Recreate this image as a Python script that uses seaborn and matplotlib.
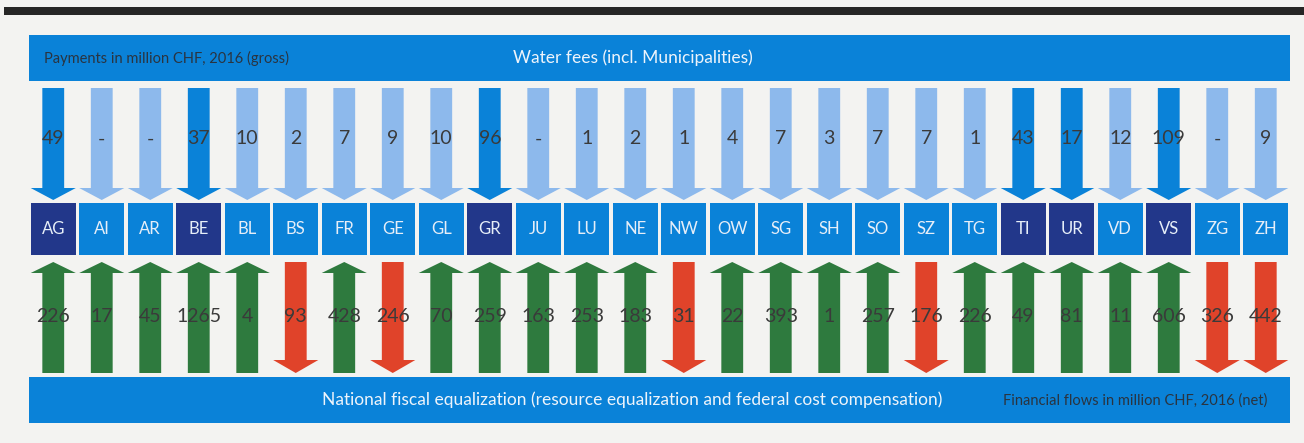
import numpy as np
import pandas as pd
import matplotlib
matplotlib.use("Agg")
import matplotlib.pyplot as plt
from matplotlib.patches import Polygon, Rectangle
import seaborn as sns

# cantons and flows (million CHF, 2016)
cantons = ["AG", "AI", "AR", "BE", "BL", "BS", "FR", "GE", "GL", "GR", "JU", "LU", "NE",
           "NW", "OW", "SG", "SH", "SO", "SZ", "TG", "TI", "UR", "VD", "VS", "ZG", "ZH"]
water_fees = [49, None, None, 37, 10, 2, 7, 9, 10, 96, None, 1, 2,
              1, 4, 7, 3, 7, 7, 1, 43, 17, 12, 109, None, 9]
# positive = receives, negative = pays
fiscal_eq = [226, 17, 45, 1265, 4, -93, 428, -246, 70, 259, 163, 253, 183,
             -31, 22, 393, 1, 257, -176, 226, 49, 81, 11, 606, -326, -442]

df = pd.DataFrame({"canton": cantons, "water": water_fees, "nfa": fiscal_eq})
df["big_water"] = df["water"].fillna(0) >= 15

sns.set_theme(style="white")
plt.rcParams['font.family'] = ['Lato', 'DejaVu Sans']

band_blue = "#0a82d8"
light_blue = "#8db9ec"
navy = "#22378a"
green = "#2e7a3e"
red = "#e0432a"
paper = "#f3f3f1"
num_color = "#3a3a3a"

fig = plt.figure(figsize=(13.04, 4.43), dpi=100, facecolor=paper)
ax = fig.add_axes([0, 0, 1, 1])
ax.set_facecolor(paper)
col = 48.5
left = 29
ax.set_xlim(-0.5 - left / col, -0.5 + (1304 - left) / col)
ax.set_ylim(443, 0)
ax.axis("off")

n = len(df)
sw = 0.225   # shaft half width
hw = 0.465   # head half width
title_x = 12.5 - 27 / col  # band titles sit a bit left of centre

# black rule at top
ax.add_patch(Rectangle((-0.5 - 25 / col, 7), n + 60 / col, 8, color="#262626", lw=0))

# bands
ax.add_patch(Rectangle((-0.5, 35), n, 46, color=band_blue, lw=0))
ax.add_patch(Rectangle((-0.5, 377), n, 46, color=band_blue, lw=0))
ax.text(-0.5 + 15 / col, 58, "Payments in million CHF, 2016 (gross)", fontsize=10.5,
        color="#2a3440", va="center", ha="left")
ax.text(title_x, 58, "Water fees (incl. Municipalities)", fontsize=12.5,
        color="#eef4fb", va="center", ha="center")
ax.text(title_x, 400, "National fiscal equalization (resource equalization and federal cost compensation)",
        fontsize=12.5, color="#eef4fb", va="center", ha="center")
ax.text(n - 0.5 - 23 / col, 401, "Financial flows in million CHF, 2016 (net)", fontsize=10.5,
        color="#2a3440", va="center", ha="right")


def down_arrow(i, top, base, tip, color):
    pts = [(i - sw, top), (i + sw, top), (i + sw, base), (i + hw, base),
           (i, tip), (i - hw, base), (i - sw, base)]
    ax.add_patch(Polygon(pts, closed=True, color=color, lw=0))


def up_arrow(i, tip, base, bottom, color):
    pts = [(i - sw, bottom), (i + sw, bottom), (i + sw, base), (i + hw, base),
           (i, tip), (i - hw, base), (i - sw, base)]
    ax.add_patch(Polygon(pts, closed=True, color=color, lw=0))


for i, row in df.iterrows():
    # water fee arrows
    c = band_blue if row["big_water"] else light_blue
    down_arrow(i, 88, 188, 200, c)
    lab = "-" if pd.isna(row["water"]) else f"{int(row['water'])}"
    ax.text(i, 139, lab, fontsize=14, color=num_color, ha="center", va="center")

    # canton boxes
    bc = navy if row["big_water"] else band_blue
    ax.add_patch(Rectangle((i - hw, 203), 2 * hw, 52, color=bc, lw=0))
    ax.text(i, 229, row["canton"], fontsize=12, color="#e6eef8", ha="center", va="center")

    # fiscal equalization arrows
    if row["nfa"] >= 0:
        up_arrow(i, 262, 273, 373, green)
    else:
        down_arrow(i, 262, 360, 373, red)
    ax.text(i, 317, f"{abs(int(row['nfa']))}", fontsize=14, color=num_color,
            ha="center", va="center")

fig.savefig("out.png", dpi=100, facecolor=paper)
